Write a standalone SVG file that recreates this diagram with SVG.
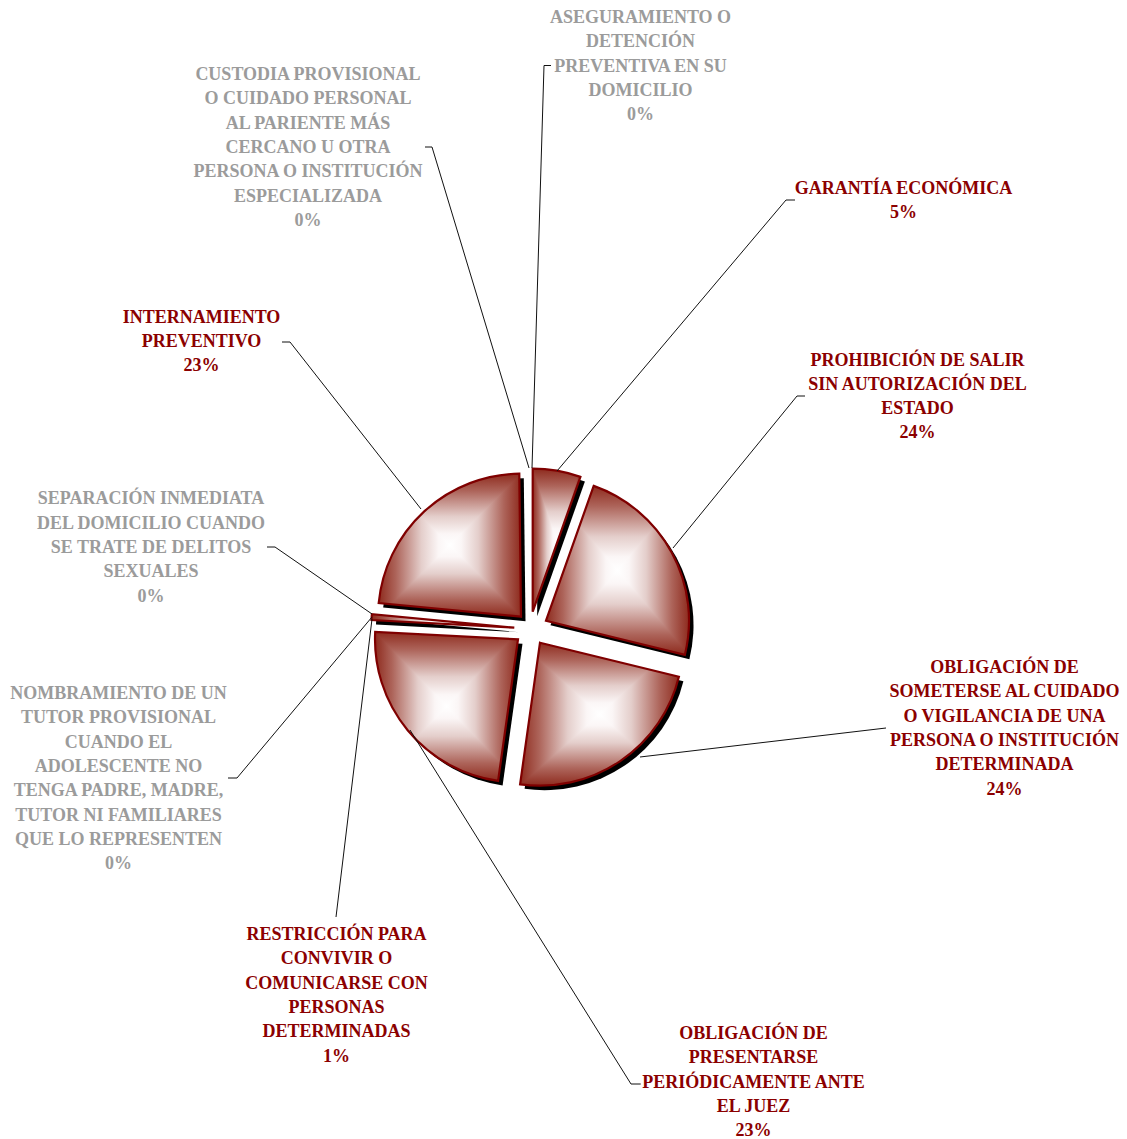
<svg xmlns="http://www.w3.org/2000/svg" width="1127" height="1139" viewBox="0 0 1127 1139">
<defs>
<linearGradient id="gh" x1="0" y1="0" x2="1" y2="0">
<stop offset="0" stop-color="#8e2b1e"/>
<stop offset="0.12" stop-color="#ad645a"/>
<stop offset="0.3" stop-color="#e4cecb"/>
<stop offset="0.42" stop-color="#fbf6f6"/>
<stop offset="0.5" stop-color="#ffffff"/>
<stop offset="0.58" stop-color="#fbf6f6"/>
<stop offset="0.7" stop-color="#e4cecb"/>
<stop offset="0.88" stop-color="#ad645a"/>
<stop offset="1" stop-color="#8e2b1e"/>
</linearGradient>
<linearGradient id="gv" x1="0" y1="0" x2="0" y2="1">
<stop offset="0" stop-color="#8e2b1e"/>
<stop offset="0.12" stop-color="#ad645a"/>
<stop offset="0.3" stop-color="#e4cecb"/>
<stop offset="0.42" stop-color="#fbf6f6"/>
<stop offset="0.5" stop-color="#ffffff"/>
<stop offset="0.58" stop-color="#fbf6f6"/>
<stop offset="0.7" stop-color="#e4cecb"/>
<stop offset="0.88" stop-color="#ad645a"/>
<stop offset="1" stop-color="#8e2b1e"/>
</linearGradient>
<path id="p1" d="M532.7,611.7 L532.7,468.7 A143,143 0 0 1 580.4,476.9 Z"/>
<path id="p2" d="M546,620.7 L593.7,485.9 A143,143 0 0 1 684.9,654.8 Z"/>
<path id="p3" d="M540,642.7 L678.9,676.8 A143,143 0 0 1 520.1,784.3 Z"/>
<path id="p4" d="M518,639.3 L498.1,780.9 A143,143 0 0 1 375.2,631.8 Z"/>
<path id="p5" d="M514.3,627.7 L371.5,620 A143,143 0 0 1 371.9,614.2 Z"/>
<path id="p6" d="M521,616.7 L378.7,603 A143,143 0 0 1 519.3,473.7 Z"/>
<clipPath id="c1"><use href="#p1"/></clipPath>
<clipPath id="c2"><use href="#p2"/></clipPath>
<clipPath id="c3"><use href="#p3"/></clipPath>
<clipPath id="c4"><use href="#p4"/></clipPath>
<clipPath id="c5"><use href="#p5"/></clipPath>
<clipPath id="c6"><use href="#p6"/></clipPath>
<style>
.fl{isolation:isolate}
.dk{mix-blend-mode:darken}
.ol{fill:none;stroke:#7f0000;stroke-width:2.2;stroke-linejoin:miter}
.sh{fill:#000}
.t{font-family:"Liberation Serif","Times New Roman",serif;font-weight:bold;font-size:18px;text-anchor:middle}
.gr{fill:#9b9b9b}
.rd{fill:#8b0000}
.ln{fill:none;stroke:#111;stroke-width:1}
</style>
</defs>
<rect width="1127" height="1139" fill="#fff"/>
<g id="shadows" transform="translate(4.5,4.5)">
<use class="sh" href="#p1"/>
<use class="sh" href="#p2"/>
<use class="sh" href="#p3"/>
<use class="sh" href="#p4"/>
<use class="sh" href="#p5"/>
<use class="sh" href="#p6"/>
</g>
<g id="aseguramiento">
<text class="t gr"><tspan x="640.5" y="23">ASEGURAMIENTO O</tspan><tspan x="640.5" y="47.3">DETENCIÓN</tspan><tspan x="640.5" y="71.6">PREVENTIVA EN SU</tspan><tspan x="640.5" y="95.9">DOMICILIO</tspan><tspan x="640.5" y="120.2">0%</tspan></text>
</g>
<g id="garantia">
<g class="fl" clip-path="url(#c1)"><rect x="532.7" y="468.7" width="47.7" height="143" fill="url(#gh)"/><rect class="dk" x="532.7" y="468.7" width="47.7" height="143" fill="url(#gv)"/></g>
<use class="ol" href="#p1"/>
<text class="t rd"><tspan x="903.5" y="194">GARANTÍA ECONÓMICA</tspan><tspan x="903.5" y="218.3">5%</tspan></text>
</g>
<g id="prohibicion">
<g class="fl" clip-path="url(#c2)"><rect x="546" y="485.9" width="143" height="168.9" fill="url(#gh)"/><rect class="dk" x="546" y="485.9" width="143" height="168.9" fill="url(#gv)"/></g>
<use class="ol" href="#p2"/>
<text class="t rd"><tspan x="917.5" y="365.5">PROHIBICIÓN DE SALIR</tspan><tspan x="917.5" y="389.8">SIN AUTORIZACIÓN DEL</tspan><tspan x="917.5" y="414.1">ESTADO</tspan><tspan x="917.5" y="438.4">24%</tspan></text>
</g>
<g id="cuidado">
<g class="fl" clip-path="url(#c3)"><rect x="520.1" y="642.7" width="158.8" height="143" fill="url(#gh)"/><rect class="dk" x="520.1" y="642.7" width="158.8" height="143" fill="url(#gv)"/></g>
<use class="ol" href="#p3"/>
<text class="t rd"><tspan x="1004.5" y="673">OBLIGACIÓN DE</tspan><tspan x="1004.5" y="697.3">SOMETERSE AL CUIDADO</tspan><tspan x="1004.5" y="721.6">O VIGILANCIA DE UNA</tspan><tspan x="1004.5" y="745.9">PERSONA O INSTITUCIÓN</tspan><tspan x="1004.5" y="770.2">DETERMINADA</tspan><tspan x="1004.5" y="794.5">24%</tspan></text>
</g>
<g id="presentarse">
<g class="fl" clip-path="url(#c4)"><rect x="375" y="631.8" width="143" height="149.1" fill="url(#gh)"/><rect class="dk" x="375" y="631.8" width="143" height="149.1" fill="url(#gv)"/></g>
<use class="ol" href="#p4"/>
<text class="t rd"><tspan x="753.5" y="1039">OBLIGACIÓN DE</tspan><tspan x="753.5" y="1063.3">PRESENTARSE</tspan><tspan x="753.5" y="1087.6">PERIÓDICAMENTE ANTE</tspan><tspan x="753.5" y="1111.9">EL JUEZ</tspan><tspan x="753.5" y="1136.2">23%</tspan></text>
</g>
<g id="restriccion">
<g class="fl" clip-path="url(#c5)"><rect x="371.5" y="614.2" width="142.8" height="13.5" fill="url(#gh)"/><rect class="dk" x="371.5" y="614.2" width="142.8" height="13.5" fill="url(#gv)"/></g>
<use class="ol" href="#p5"/>
<text class="t rd"><tspan x="336.5" y="940">RESTRICCIÓN PARA</tspan><tspan x="336.5" y="964.3">CONVIVIR O</tspan><tspan x="336.5" y="988.6">COMUNICARSE CON</tspan><tspan x="336.5" y="1012.9">PERSONAS</tspan><tspan x="336.5" y="1037.2">DETERMINADAS</tspan><tspan x="336.5" y="1061.5">1%</tspan></text>
</g>
<g id="nombramiento">
<text class="t gr"><tspan x="118.5" y="699">NOMBRAMIENTO DE UN</tspan><tspan x="118.5" y="723.3">TUTOR PROVISIONAL</tspan><tspan x="118.5" y="747.6">CUANDO EL</tspan><tspan x="118.5" y="771.9">ADOLESCENTE NO</tspan><tspan x="118.5" y="796.2">TENGA PADRE, MADRE,</tspan><tspan x="118.5" y="820.5">TUTOR NI FAMILIARES</tspan><tspan x="118.5" y="844.8">QUE LO REPRESENTEN</tspan><tspan x="118.5" y="869.1">0%</tspan></text>
</g>
<g id="separacion">
<text class="t gr"><tspan x="151" y="504.4">SEPARACIÓN INMEDIATA</tspan><tspan x="151" y="528.7">DEL DOMICILIO CUANDO</tspan><tspan x="151" y="553">SE TRATE DE DELITOS</tspan><tspan x="151" y="577.3">SEXUALES</tspan><tspan x="151" y="601.6">0%</tspan></text>
</g>
<g id="internamiento">
<g class="fl" clip-path="url(#c6)"><rect x="378.7" y="473.7" width="142.3" height="143" fill="url(#gh)"/><rect class="dk" x="378.7" y="473.7" width="142.3" height="143" fill="url(#gv)"/></g>
<use class="ol" href="#p6"/>
<text class="t rd"><tspan x="201.5" y="322.7">INTERNAMIENTO</tspan><tspan x="201.5" y="347">PREVENTIVO</tspan><tspan x="201.5" y="371.3">23%</tspan></text>
</g>
<g id="custodia">
<text class="t gr"><tspan x="308" y="80">CUSTODIA PROVISIONAL</tspan><tspan x="308" y="104.3">O CUIDADO PERSONAL</tspan><tspan x="308" y="128.6">AL PARIENTE MÁS</tspan><tspan x="308" y="152.9">CERCANO U OTRA</tspan><tspan x="308" y="177.2">PERSONA O INSTITUCIÓN</tspan><tspan x="308" y="201.5">ESPECIALIZADA</tspan><tspan x="308" y="225.8">0%</tspan></text>
</g>
<g id="connectors">
<polyline class="ln" points="551,65.5 544,65.5 532,468"/>
<polyline class="ln" points="425,147 432,147 529,468"/>
<polyline class="ln" points="795,200 786,200 557,471"/>
<polyline class="ln" points="805,396 797,396 673,548"/>
<polyline class="ln" points="886,728 640,757"/>
<polyline class="ln" points="640.7,1084 631,1084 410,730"/>
<polyline class="ln" points="336,917 372,619"/>
<polyline class="ln" points="228,778 237,778 372,617"/>
<polyline class="ln" points="267,547 275,547 372,614"/>
<polyline class="ln" points="282,342 290,342 421,509"/>
</g>
</svg>
